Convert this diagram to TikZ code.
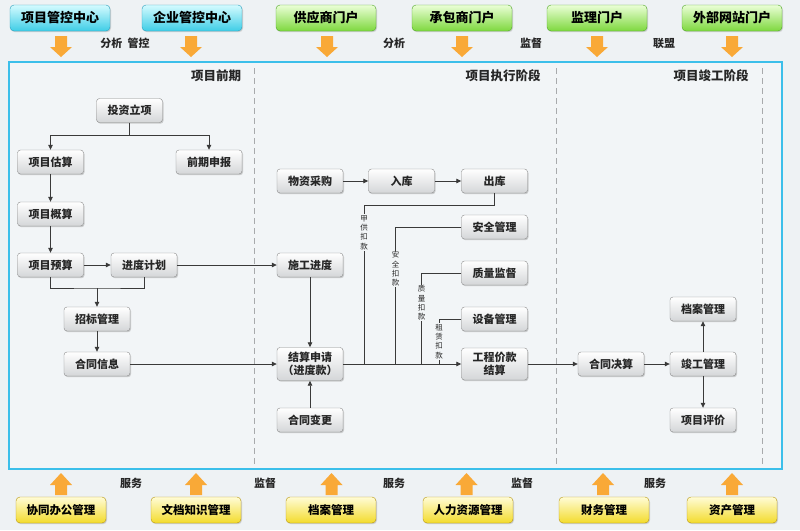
\documentclass[tikz,border=0pt]{standalone}
\usepackage{fontspec}
\setmainfont{Noto Sans CJK SC}
\usetikzlibrary{shadows,arrows.meta}
\definecolor{bgc}{HTML}{EEF2F4}
\definecolor{inbg}{HTML}{F2F5F7}
\definecolor{framec}{HTML}{3CBFEA}
\definecolor{divc}{HTML}{A8AAAC}
\definecolor{cyt}{HTML}{D4FBFF}
\definecolor{cyb}{HTML}{3ECDE6}
\definecolor{cyd}{HTML}{2A9EBC}
\definecolor{grt}{HTML}{EAFFD6}
\definecolor{grb}{HTML}{7ED83E}
\definecolor{grd}{HTML}{4FA526}
\definecolor{yet}{HTML}{FFFCD6}
\definecolor{yeb}{HTML}{F3DB2C}
\definecolor{yed}{HTML}{B8960E}
\definecolor{orc}{HTML}{F9A937}
\definecolor{linec}{HTML}{3A3A3A}
\definecolor{boxd}{HTML}{8A8A8A}
\definecolor{boxb}{HTML}{D4D6D8}
\definecolor{txt}{HTML}{262626}
\tikzset{
 flow/.style={draw=boxd, rounded corners=3pt, top color=white, bottom color=boxb, minimum width=66pt, minimum height=24pt, inner sep=1pt, text=txt, font=\bfseries\fontsize{11}{13}\selectfont, drop shadow={shadow xshift=1pt, shadow yshift=-1.2pt, opacity=0.35}},
 portal/.style={rounded corners=4pt, minimum width=100pt, minimum height=26pt, inner sep=1pt, font=\bfseries\fontsize{13}{15}\selectfont, text=black, drop shadow={shadow xshift=1pt, shadow yshift=-1.2pt, opacity=0.3}},
 cyanbox/.style={portal, draw=cyd, top color=cyt, bottom color=cyb},
 greenbox/.style={portal, draw=grd, top color=grt, bottom color=grb},
 yellowbox/.style={portal, minimum width=90pt, draw=yed, top color=yet, bottom color=yeb, font=\bfseries\fontsize{11.5}{13}\selectfont},
 conn/.style={draw=linec, line width=0.8pt},
 arr/.style={conn, -{Triangle[length=5pt,width=4.5pt]}},
 note/.style={text=txt, font=\bfseries\fontsize{11}{13}\selectfont},
 phase/.style={text=txt, font=\bfseries\fontsize{12.5}{14}\selectfont},
 vlab/.style={text=txt, font=\fontsize{7.5}{9.3}\selectfont, align=center, fill=inbg, inner sep=1pt},
 dnarrow/.pic={\fill[orc] (-6,0) -- (6,0) -- (6,11) -- (11,11) -- (0,21) -- (-11,11) -- (-6,11) -- cycle;},
 uparrow/.pic={\fill[orc] (-6,0) -- (6,0) -- (6,-10) -- (11,-10) -- (0,-22) -- (-11,-10) -- (-6,-10) -- cycle;}
}
\begin{document}
\begin{tikzpicture}[x=1pt,y=-1pt]
\fill[bgc] (0,0) rectangle (800,530);
\useasboundingbox (0,0) rectangle (800,530);
% frame
\draw[framec, line width=1.5pt, fill=inbg] (9,62) rectangle (782,469);
\foreach \xx in {254,556,762} \draw[divc, dashed, dash pattern=on 6pt off 4pt, line width=0.6pt] (\xx,68) -- (\xx,466);
\node[phase] (p1) at (216,76) {项目前期};
\node[phase] (p2) at (503,76) {项目执行阶段};
\node[phase] (p3) at (711,76) {项目竣工阶段};

% top portals
\node[cyanbox] (t1) at (60,18) {项目管控中心};
\node[cyanbox] (t2) at (192,18) {企业管控中心};
\node[greenbox] (t3) at (326,18) {供应商门户};
\node[greenbox] (t4) at (462,18) {承包商门户};
\node[greenbox] (t5) at (597,18) {监理门户};
\node[greenbox] (t6) at (732,18) {外部网站门户};
\foreach \xx in {61,191,327,462,597,732} \pic at (\xx,36) {dnarrow};
\node[note] (l1) at (125,43) {分析\ \ 管控};
\node[note] (l2) at (394,43) {分析};
\node[note] (l3) at (531,43) {监督};
\node[note] (l4) at (664,43) {联盟};

% bottom
\node[yellowbox] (b1) at (61,510) {协同办公管理};
\node[yellowbox] (b2) at (196,510) {文档知识管理};
\node[yellowbox] (b3) at (331,510) {档案管理};
\node[yellowbox] (b4) at (468,510) {人力资源管理};
\node[yellowbox] (b5) at (604,510) {财务管理};
\node[yellowbox] (b6) at (732,510) {资产管理};
\foreach \xx in {61,196,331.5,466.5,603,732} \pic at (\xx,495) {uparrow};
\node[note] (s1) at (131,483) {服务};
\node[note] (s2) at (265,483) {监督};
\node[note] (s3) at (394,483) {服务};
\node[note] (s4) at (522,483) {监督};
\node[note] (s5) at (655,483) {服务};

% phase 1
\node[flow] (tz) at (129.5,110.5) {投资立项};
\node[flow] (gs) at (50.5,162) {项目估算};
\node[flow] (qb) at (209,162) {前期申报};
\node[flow] (gai) at (50.5,214) {项目概算};
\node[flow] (ys) at (50.5,265) {项目预算};
\node[flow] (jd) at (144,265) {进度计划};
\node[flow] (zb) at (97,319) {招标管理};
\node[flow] (ht) at (97,364) {合同信息};

% phase 2
\node[flow] (wz) at (310,181) {物资采购};
\node[flow] (rk) at (401.5,181) {入库};
\node[flow] (ck) at (494.5,181) {出库};
\node[flow] (aq) at (494.5,227) {安全管理};
\node[flow] (zl) at (494.5,273) {质量监督};
\node[flow] (sb) at (494.5,319) {设备管理};
\node[flow, minimum height=32pt, align=center, font=\bfseries\fontsize{11}{12.5}\selectfont] (gc) at (494.5,364) {工程价款\\结算};
\node[flow] (sg) at (310,265) {施工进度};
\node[flow, minimum height=33pt, align=center, font=\bfseries\fontsize{11}{12.5}\selectfont] (js) at (310,364) {结算申请\\（进度款）};
\node[flow] (bg) at (310,420) {合同变更};

% phase 3
\node[flow] (hj) at (611,364) {合同决算};
\node[flow] (jg) at (703,364) {竣工管理};
\node[flow] (da) at (703,309) {档案管理};
\node[flow] (pj) at (703,420) {项目评价};

% connectors phase 1
\coordinate (tzj) at (129.5,135);
\draw[conn] (tz) -- (tzj);
\draw[arr] (tzj) -| (gs);
\draw[arr] (tzj) -| (qb);
\draw[arr] (gs) -- (gai);
\draw[arr] (gai) -- (ys);
\draw[arr] (ys) -- (jd);
\coordinate (bj) at (97,288);
\draw[conn] (ys.south) |- (bj) -| (jd.south);
\draw[arr] (bj) -- (zb);
\draw[arr] (zb) -- (ht);
\draw[arr] (jd) -- (sg);
\draw[arr] (ht) -- (js);

% connectors phase 2
\draw[arr] (wz) -- (rk);
\draw[arr] (rk) -- (ck);
\draw[arr] (sg) -- (js);
\draw[arr] (bg) -- (js);
\draw[arr] (js) -- (gc);
\coordinate (k1) at (364,205);
\coordinate (m1) at (364,364);
\coordinate (m2) at (395.7,364);
\coordinate (m3) at (421.7,364);
\coordinate (m4) at (439,364);
\draw[conn] (ck) |- (k1) -- (m1);
\draw[conn] (aq) -| (m2);
\draw[conn] (zl) -| (m3);
\draw[conn] (sb) -| (m4);
\node[vlab] (v1) at (364,232.5) {甲\\供\\扣\\款};
\node[vlab] (v2) at (395.7,269) {安\\全\\扣\\款};
\node[vlab] (v3) at (421.7,303) {质\\量\\扣\\款};
\node[vlab] (v4) at (439,341.5) {租\\赁\\扣\\款};

% connectors phase 3
\draw[arr] (gc) -- (hj);
\draw[arr] (hj) -- (jg);
\draw[arr] (jg) -- (da);
\draw[arr] (jg) -- (pj);
\end{tikzpicture}
\end{document}
